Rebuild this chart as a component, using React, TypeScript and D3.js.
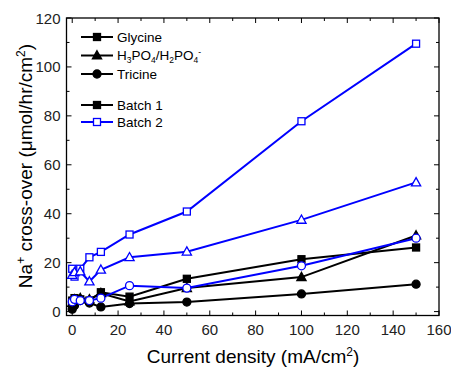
import React from 'react';
import * as d3 from 'd3';

// current density (mA/cm2)
const currentDensity = [0, 1, 3.5, 7.5, 12.5, 25, 50, 100, 150];

// Na+ cross-over (umol/hr/cm2)
const b1Glycine = [4.5, 5.5, 5.0, 4.5, 7.9, 6.1, 13.4, 21.4, 26.2];
const b1Phosphate = [3.5, 5.0, 5.5, 5.0, 7.5, 4.1, 9.6, 14.1, 31.1];
const b1Tricine = [1.0, 2.5, 4.5, 3.5, 1.9, 3.3, 3.9, 7.2, 11.2];
const b2Glycine = [17.5, 14.3, 17.5, 22.2, 24.4, 31.5, 40.9, 77.8, 109.5];
const b2Phosphate = [15.0, 16.1, 16.4, 12.3, 17.1, 22.2, 24.5, 37.5, 52.8];
const b2Tricine = [4.0, 5.0, 4.5, 4.5, 5.5, 10.6, 9.6, 18.7, 30.0];

const xTicks = [0, 20, 40, 60, 80, 100, 120, 140, 160];
const yTicks = [0, 20, 40, 60, 80, 100, 120];

type Shape = 'square' | 'triangle' | 'circle';

const series: { values: number[]; shape: Shape; batch: 1 | 2 }[] = [
  { values: b1Glycine, shape: 'square', batch: 1 },
  { values: b1Phosphate, shape: 'triangle', batch: 1 },
  { values: b1Tricine, shape: 'circle', batch: 1 },
  { values: b2Glycine, shape: 'square', batch: 2 },
  { values: b2Phosphate, shape: 'triangle', batch: 2 },
  { values: b2Tricine, shape: 'circle', batch: 2 },
];

const BLUE = '#0000ff';

const Marker = ({ x, y, shape, batch }: { x: number; y: number; shape: Shape; batch: number }) => {
  const fill = batch === 1 ? '#000' : '#fff';
  const stroke = batch === 1 ? '#000' : BLUE;
  if (shape === 'square') return <rect x={x - 3.5} y={y - 3.5} width={7} height={7} fill={fill} stroke={stroke} strokeWidth={1.3} />;
  if (shape === 'circle') return <circle cx={x} cy={y} r={4} fill={fill} stroke={stroke} strokeWidth={1.3} />;
  return <path d={`M${x},${y - 4.8}L${x + 4.6},${y + 3.4}L${x - 4.6},${y + 3.4}Z`} fill={fill} stroke={stroke} strokeWidth={1.3} />;
};

export default function App() {
  const left = 66.5, right = 439, top = 18, bottom = 315.5;
  const x = d3.scaleLinear().domain([-2.5, 160]).range([left, right]);
  const y = d3.scaleLinear().domain([-1.6, 120]).range([bottom, top]);
  const line = d3.line<number>().x((_, i) => x(currentDensity[i])).y(d => y(d));

  const xMinor = d3.range(0, 161, 10);
  const yMinor = d3.range(0, 121, 10);
  const font = 'Arial, "Liberation Sans", sans-serif';

  const legendRows: { label: React.ReactNode; shape: Shape; batch: number; yy: number }[] = [
    { label: 'Glycine', shape: 'square', batch: 1, yy: 37 },
    {
      label: (
        <>
          H<tspan fontSize={8.5} dy={3}>3</tspan>
          <tspan dy={-3}>PO</tspan>
          <tspan fontSize={8.5} dy={3}>4</tspan>
          <tspan dy={-3}>/H</tspan>
          <tspan fontSize={8.5} dy={3}>2</tspan>
          <tspan dy={-3}>PO</tspan>
          <tspan fontSize={8.5} dy={3}>4</tspan>
          <tspan fontSize={8.5} dy={-8}>-</tspan>
        </>
      ),
      shape: 'triangle', batch: 1, yy: 55.5,
    },
    { label: 'Tricine', shape: 'circle', batch: 1, yy: 74 },
    { label: 'Batch 1', shape: 'square', batch: 1, yy: 105 },
    { label: 'Batch 2', shape: 'square', batch: 2, yy: 122 },
  ];

  return (
    <svg width={451} height={370} style={{ position: 'absolute', left: 0, top: 0 }} fontFamily={font}>
      <rect width={451} height={370} fill="#fff" />
      {/* ticks */}
      <g stroke="#000" strokeWidth={1}>
        {xMinor.map(t => {
          const len = t % 20 === 0 ? 5 : 3;
          return (
            <g key={'xt' + t}>
              <line x1={x(t)} x2={x(t)} y1={bottom} y2={bottom - len} />
              <line x1={x(t)} x2={x(t)} y1={top} y2={top + len} />
            </g>
          );
        })}
        {yMinor.map(t => {
          const len = t % 20 === 0 ? 5 : 3;
          return (
            <g key={'yt' + t}>
              <line x1={left} x2={left + len} y1={y(t)} y2={y(t)} />
              <line x1={right} x2={right - len} y1={y(t)} y2={y(t)} />
            </g>
          );
        })}
      </g>
      <rect x={left} y={top} width={right - left} height={bottom - top} fill="none" stroke="#000" strokeWidth={1.3} />
      {xTicks.map(t => (
        <text key={'xl' + t} x={x(t)} y={bottom + 19} textAnchor="middle" fontSize={15} fill="#222">{t}</text>
      ))}
      {yTicks.map(t => (
        <text key={'yl' + t} x={left - 6} y={y(t) + 5.5} textAnchor="end" fontSize={15} fill="#222">{t}</text>
      ))}
      <text x={253} y={363} textAnchor="middle" fontSize={19} fill="#000">
        Current density (mA/cm<tspan fontSize={12} dy={-7}>2</tspan><tspan dy={7}>)</tspan>
      </text>
      <text transform={`translate(32,166) rotate(-90)`} textAnchor="middle" fontSize={19} fill="#000">
        Na<tspan fontSize={12} dy={-7}>+</tspan><tspan dy={7}> cross-over (μmol/hr/cm</tspan>
        <tspan fontSize={12} dy={-7}>2</tspan><tspan dy={7}>)</tspan>
      </text>
      {/* series */}
      {series.map((s, i) => (
        <path key={'l' + i} d={line(s.values) || ''} fill="none" stroke={s.batch === 1 ? '#000' : BLUE} strokeWidth={2} />
      ))}
      {series.map((s, i) =>
        s.values.map((v, j) => (
          <Marker key={`m${i}-${j}`} x={x(currentDensity[j])} y={y(v)} shape={s.shape} batch={s.batch} />
        ))
      )}
      {/* legend */}
      {legendRows.map((r, i) => (
        <g key={'lg' + i}>
          <line x1={81} x2={113} y1={r.yy} y2={r.yy} stroke={r.batch === 1 ? '#000' : BLUE} strokeWidth={2} />
          <Marker x={97} y={r.yy} shape={r.shape} batch={r.batch} />
          <text x={117} y={r.yy + 4.5} fontSize={13.5} fill="#000">{r.label}</text>
        </g>
      ))}
    </svg>
  );
}
